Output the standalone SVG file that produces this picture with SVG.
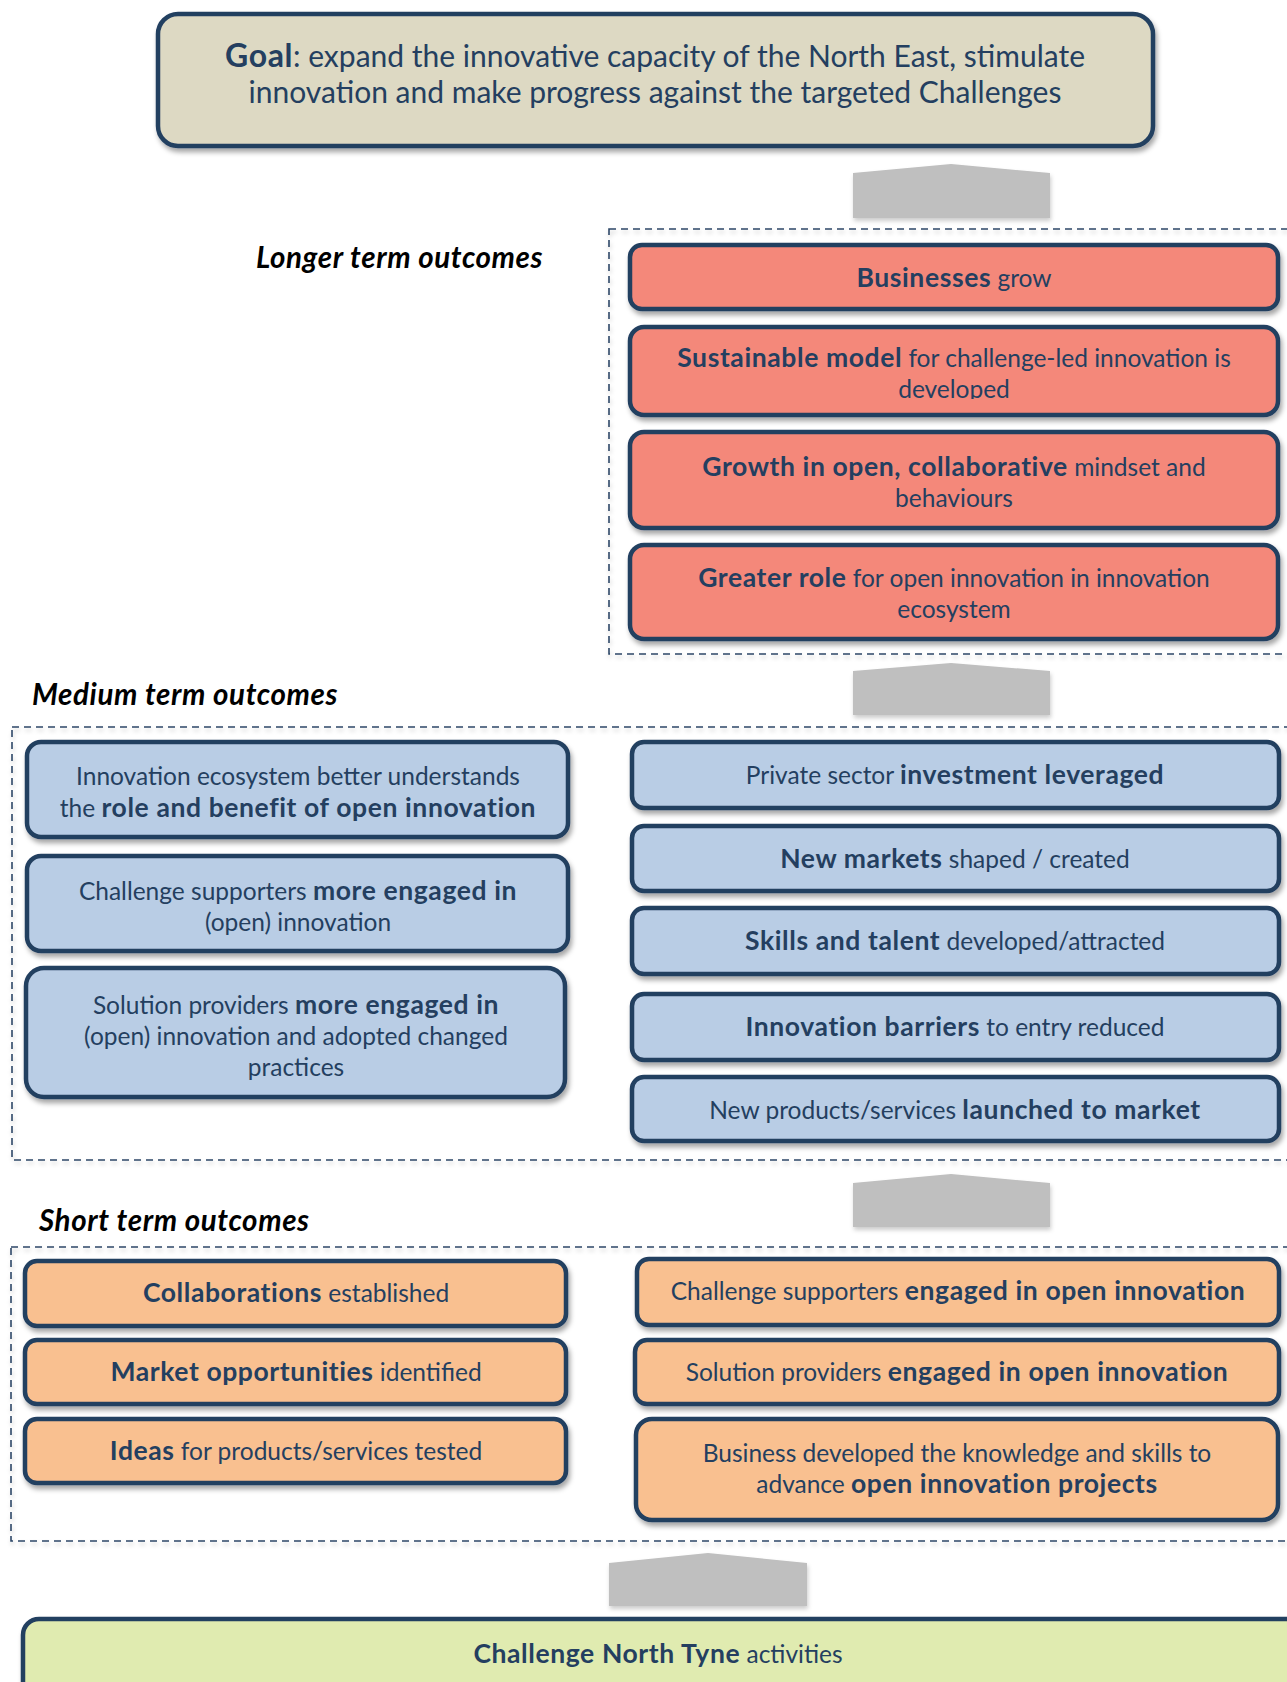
<svg xmlns="http://www.w3.org/2000/svg" width="1287" height="1682" viewBox="0 0 1287 1682">
<defs>
<filter id="sh" x="-5%" y="-20%" width="110%" height="150%">
<feDropShadow dx="2" dy="4" stdDeviation="2.5" flood-color="#000" flood-opacity="0.35"/>
</filter>
<filter id="shs" x="-5%" y="-20%" width="110%" height="150%">
<feDropShadow dx="1" dy="3" stdDeviation="2" flood-color="#000" flood-opacity="0.2"/>
</filter>
<clipPath id="clipDev"><rect x="630" y="370" width="648" height="29"/></clipPath>
</defs>
<style>
.box{stroke:#243F60;stroke-width:4.5;filter:url(#sh)}
.goal{fill:#DDD9C3}
.red{fill:#F4887A}
.blue{fill:#B9CDE5}
.orange{fill:#F9C090}
.green{fill:#E0EBB0}
.t{font-family:Lato,"Noto Sans",sans-serif;font-size:24.5px;fill:#243F60;text-anchor:middle}
.tg{font-size:30px}
.b{font-weight:bold;font-size:26.5px;letter-spacing:0.6px}
.tg .b{font-size:32px}
.h{font-family:Lato,"Noto Sans",sans-serif;font-size:29.5px;font-style:italic;font-weight:bold;letter-spacing:0.6px;fill:#000}
.dash{fill:none;stroke:#2E4868;stroke-width:1.6;stroke-dasharray:7 5;filter:url(#shs)}
.arr{fill:#BFBFBF;filter:url(#shs)}
</style>
<rect width="1287" height="1682" fill="#fff"/>

<g id="groups">
<rect class="dash" x="609" y="229" width="700" height="425"/>
<rect class="dash" x="12" y="727" width="1300" height="433"/>
<rect class="dash" x="11" y="1247" width="1300" height="294"/>
</g>

<g id="headings">
<text class="h" x="256" y="268">Longer term outcomes</text>
<text class="h" x="32" y="705">Medium term outcomes</text>
<text class="h" x="39" y="1231">Short term outcomes</text>
</g>

<g id="connectors">
<polygon class="arr" points="853,173 951,164 1050,173 1050,218 853,218"/>
<polygon class="arr" points="853,671 951,663 1050,671 1050,715 853,715"/>
<polygon class="arr" points="853,1183 951,1174 1050,1183 1050,1227 853,1227"/>
<polygon class="arr" points="609,1563 708,1553 807,1563 807,1606 609,1606"/>
</g>

<g id="goal">
<rect class="box goal" x="158" y="14" width="995" height="132" rx="20"/>
<text class="t tg" x="655" y="67"><tspan class="b">Goal</tspan>: expand the innovative capacity of the North East, stimulate</text>
<text class="t tg" x="655" y="103">innovation and make progress against the targeted Challenges</text>
</g>

<g id="lt1">
<rect class="box red" x="630" y="245" width="648" height="64" rx="12"/>
<text class="t" x="954" y="287"><tspan class="b">Businesses</tspan> grow</text>
</g>
<g id="lt2">
<rect class="box red" x="630" y="327" width="648" height="88" rx="14"/>
<text class="t" x="954" y="367"><tspan class="b">Sustainable model</tspan> for challenge-led innovation is</text>
<text class="t" x="954" y="398" clip-path="url(#clipDev)">developed</text>
</g>
<g id="lt3">
<rect class="box red" x="630" y="432" width="648" height="96" rx="14"/>
<text class="t" x="954" y="476"><tspan class="b">Growth in open, collaborative</tspan> mindset and</text>
<text class="t" x="954" y="507">behaviours</text>
</g>
<g id="lt4">
<rect class="box red" x="630" y="545" width="648" height="94" rx="14"/>
<text class="t" x="954" y="587"><tspan class="b">Greater role</tspan> for open innovation in innovation</text>
<text class="t" x="954" y="618">ecosystem</text>
</g>

<g id="ml1">
<rect class="box blue" x="27" y="742" width="541" height="95" rx="14"/>
<text class="t" x="298" y="785">Innovation ecosystem better understands</text>
<text class="t" x="298" y="817">the <tspan class="b">role and benefit of open innovation</tspan></text>
</g>
<g id="ml2">
<rect class="box blue" x="27" y="856" width="541" height="95" rx="14"/>
<text class="t" x="298" y="900">Challenge supporters <tspan class="b">more engaged in</tspan></text>
<text class="t" x="298" y="931">(open) innovation</text>
</g>
<g id="ml3">
<rect class="box blue" x="26" y="968" width="539" height="129" rx="18"/>
<text class="t" x="296" y="1014">Solution providers <tspan class="b">more engaged in</tspan></text>
<text class="t" x="296" y="1045">(open) innovation and adopted changed</text>
<text class="t" x="296" y="1076">practices</text>
</g>

<g id="mr1">
<rect class="box blue" x="632" y="742" width="647" height="66" rx="12"/>
<text class="t" x="955" y="784">Private sector <tspan class="b">investment leveraged</tspan></text>
</g>
<g id="mr2">
<rect class="box blue" x="632" y="826" width="647" height="65" rx="12"/>
<text class="t" x="955" y="868"><tspan class="b">New markets</tspan> shaped / created</text>
</g>
<g id="mr3">
<rect class="box blue" x="632" y="908" width="647" height="66" rx="12"/>
<text class="t" x="955" y="950"><tspan class="b">Skills and talent</tspan> developed/attracted</text>
</g>
<g id="mr4">
<rect class="box blue" x="632" y="994" width="647" height="66" rx="12"/>
<text class="t" x="955" y="1036"><tspan class="b">Innovation barriers</tspan> to entry reduced</text>
</g>
<g id="mr5">
<rect class="box blue" x="632" y="1077" width="647" height="64" rx="12"/>
<text class="t" x="955" y="1119">New products/services <tspan class="b">launched to market</tspan></text>
</g>

<g id="sl1">
<rect class="box orange" x="25" y="1261" width="541" height="65" rx="12"/>
<text class="t" x="296" y="1302"><tspan class="b">Collaborations</tspan> established</text>
</g>
<g id="sl2">
<rect class="box orange" x="25" y="1340" width="541" height="64" rx="12"/>
<text class="t" x="296" y="1381"><tspan class="b">Market opportunities</tspan> identified</text>
</g>
<g id="sl3">
<rect class="box orange" x="25" y="1419" width="541" height="64" rx="12"/>
<text class="t" x="296" y="1460"><tspan class="b">Ideas</tspan> for products/services tested</text>
</g>

<g id="sr1">
<rect class="box orange" x="637" y="1259" width="642" height="66" rx="12"/>
<text class="t" x="958" y="1300">Challenge supporters <tspan class="b">engaged in open innovation</tspan></text>
</g>
<g id="sr2">
<rect class="box orange" x="635" y="1340" width="644" height="64" rx="12"/>
<text class="t" x="957" y="1381">Solution providers <tspan class="b">engaged in open innovation</tspan></text>
</g>
<g id="sr3">
<rect class="box orange" x="636" y="1419" width="642" height="101" rx="16"/>
<text class="t" x="957" y="1462">Business developed the knowledge and skills to</text>
<text class="t" x="957" y="1493">advance <tspan class="b">open innovation projects</tspan></text>
</g>

<g id="activities">
<rect class="box green" x="23" y="1619" width="1290" height="100" rx="16"/>
<text class="t" x="658" y="1663"><tspan class="b">Challenge North Tyne</tspan> activities</text>
</g>
</svg>
